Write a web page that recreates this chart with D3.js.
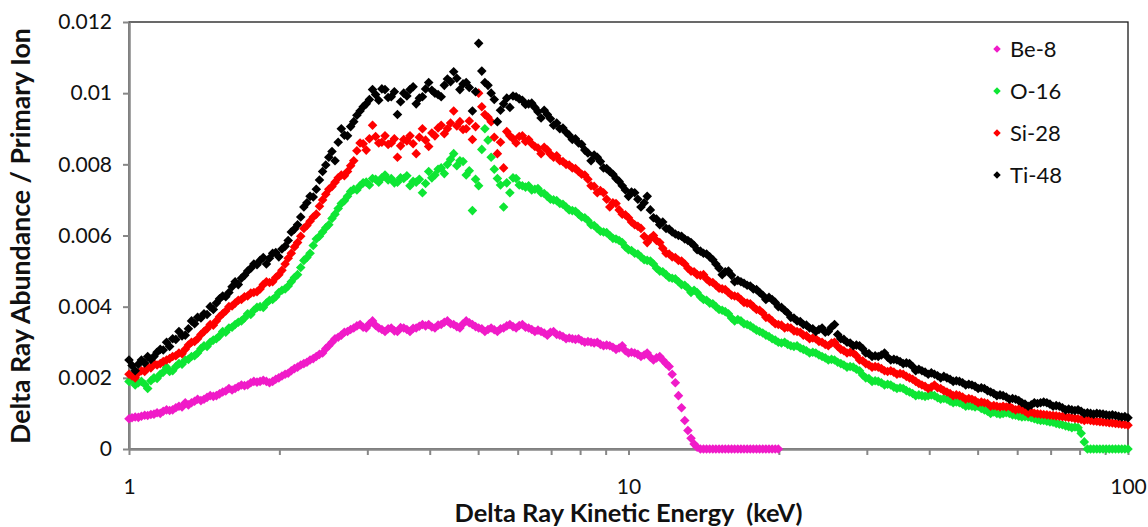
<!DOCTYPE html>
<html>
<head>
<meta charset="utf-8">
<script src="https://cdn.jsdelivr.net/npm/d3@7"></script>
<style>
  body { margin: 0; background: #fff; }
  svg { display: block; font-family: Lato, "Open Sans", sans-serif; }
</style>
</head>
<body>
<svg id="chart" width="1148" height="527"></svg>
<script>
// Delta-ray kinetic energy bins (keV), 160 bins per decade, shared by all ions
const energies = [
  1.000,1.014,1.029,1.044,1.059,1.075,1.090,1.106,1.122,1.138,
  1.155,1.171,1.189,1.206,1.223,1.241,1.259,1.277,1.296,1.315,
  1.334,1.353,1.372,1.393,1.413,1.433,1.454,1.475,1.496,1.518,
  1.540,1.562,1.585,1.608,1.631,1.655,1.679,1.703,1.728,1.753,
  1.778,1.804,1.830,1.857,1.884,1.911,1.939,1.967,1.995,2.024,
  2.054,2.083,2.113,2.144,2.175,2.207,2.239,2.271,2.304,2.338,
  2.371,2.406,2.441,2.477,2.512,2.549,2.585,2.623,2.661,2.699,
  2.738,2.778,2.818,2.859,2.901,2.943,2.985,3.029,3.073,3.117,
  3.162,3.208,3.255,3.302,3.350,3.398,3.447,3.497,3.548,3.600,
  3.652,3.705,3.758,3.813,3.868,3.924,3.981,4.039,4.097,4.157,
  4.217,4.278,4.340,4.403,4.467,4.532,4.597,4.664,4.732,4.800,
  4.870,4.941,5.012,5.085,5.158,5.233,5.309,5.386,5.464,5.543,
  5.623,5.705,5.788,5.872,5.957,6.043,6.131,6.220,6.310,6.401,
  6.494,6.588,6.683,6.780,6.879,6.978,7.079,7.182,7.286,7.391,
  7.499,7.607,7.718,7.830,7.943,8.058,8.175,8.294,8.414,8.536,
  8.660,8.785,8.913,9.042,9.173,9.306,9.441,9.578,9.716,9.857,
  10.00,10.14,10.29,10.44,10.59,10.75,10.90,11.06,11.22,11.38,
  11.55,11.71,11.89,12.06,12.23,12.41,12.59,12.77,12.96,13.15,
  13.34,13.53,13.72,13.93,14.13,14.33,14.54,14.75,14.96,15.18,
  15.40,15.62,15.85,16.08,16.31,16.55,16.79,17.03,17.28,17.53,
  17.78,18.04,18.30,18.57,18.84,19.11,19.39,19.67,19.95,20.24,
  20.54,20.83,21.13,21.44,21.75,22.07,22.39,22.71,23.04,23.38,
  23.71,24.06,24.41,24.77,25.12,25.49,25.85,26.23,26.61,26.99,
  27.38,27.78,28.18,28.59,29.01,29.43,29.85,30.29,30.73,31.17,
  31.62,32.08,32.55,33.02,33.50,33.98,34.47,34.97,35.48,36.00,
  36.52,37.05,37.58,38.13,38.68,39.24,39.81,40.39,40.97,41.57,
  42.17,42.78,43.40,44.03,44.67,45.32,45.97,46.64,47.32,48.00,
  48.70,49.41,50.12,50.85,51.58,52.33,53.09,53.86,54.64,55.43,
  56.23,57.05,57.88,58.72,59.57,60.43,61.31,62.20,63.10,64.01,
  64.94,65.88,66.83,67.80,68.79,69.78,70.79,71.82,72.86,73.91,
  74.99,76.07,77.18,78.30,79.43,80.58,81.75,82.94,84.14,85.36,
  86.60,87.85,89.13,90.42,91.73,93.06,94.41,95.78,97.16,98.57,
  100.0
];

// Delta-ray abundance per primary ion (Be-8 tallied up to ~20 keV)
const be8 = [
  0.00085,0.00088,0.00090,0.00089,0.00092,0.00095,0.00094,0.00097,0.00098,0.00102,
  0.0010,0.00106,0.0011,0.00108,0.0011,0.00116,0.0012,0.00118,0.0013,0.00124,
  0.0013,0.00134,0.0014,0.00136,0.0014,0.00145,0.0015,0.00148,0.0015,0.00155,
  0.0016,0.00163,0.0017,0.00166,0.0017,0.00175,0.0018,0.00178,0.0018,0.00186,
  0.0019,0.00188,0.0019,0.00193,0.0019,0.00186,0.0019,0.00196,0.0020,0.00205,
  0.0021,0.00213,0.0022,0.00226,0.0023,0.00236,0.0024,0.00244,0.0025,0.00254,
  0.0026,0.00266,0.0027,0.00282,0.0029,0.00300,0.0031,0.00314,0.0032,0.00328,
  0.0033,0.00336,0.0034,0.00346,0.0035,0.00342,0.0034,0.00352,0.0036,0.00347,
  0.0034,0.00336,0.0033,0.00338,0.0034,0.00332,0.0033,0.00341,0.0034,0.00336,
  0.0033,0.00339,0.0034,0.00345,0.0035,0.00346,0.0035,0.00343,0.0034,0.00348,
  0.0035,0.00356,0.0036,0.00352,0.0035,0.00344,0.0034,0.00352,0.0036,0.00355,
  0.0035,0.00344,0.0034,0.00338,0.0033,0.00336,0.0034,0.00335,0.0033,0.00338,
  0.0034,0.00346,0.0035,0.00344,0.0034,0.00347,0.0035,0.00342,0.0034,0.00336,
  0.0033,0.00334,0.0033,0.00326,0.0032,0.00328,0.0033,0.00322,0.0032,0.00316,
  0.0031,0.00312,0.0031,0.00308,0.0031,0.00304,0.0030,0.00302,0.0030,0.00298,
  0.0030,0.00294,0.0029,0.00292,0.0029,0.00286,0.0028,0.00284,0.0029,0.00276,
  0.0027,0.00272,0.0027,0.00266,0.0026,0.00264,0.0027,0.00258,0.0025,0.00256,
  0.0026,0.00250,0.0024,0.00232,0.0021,0.00186,0.0015,0.00116,0.0008,0.00052,
  0.0003,0.00014,0.00005,0,0,0,0,0,0,0,
  0,0,0,0,0,0,0,0,0,0,
  0,0,0,0,0,0,0,0,
  0
];

const o16 = [
  0.0019,0.00195,0.0018,0.00186,0.0019,0.00182,0.0017,0.00192,0.0020,0.00198,
  0.0021,0.00216,0.0023,0.00218,0.0022,0.00232,0.0024,0.00238,0.0025,0.00252,
  0.0026,0.00262,0.0027,0.00282,0.0029,0.00288,0.0030,0.00306,0.0031,0.00318,
  0.0033,0.00328,0.0034,0.00342,0.0035,0.00356,0.0036,0.00368,0.0038,0.00378,
  0.0039,0.00398,0.0040,0.00398,0.0041,0.00418,0.0042,0.00428,0.0044,0.00446,
  0.0045,0.00458,0.0047,0.00482,0.0049,0.00510,0.0053,0.00538,0.0055,0.00572,
  0.0059,0.00598,0.0061,0.00622,0.0063,0.00648,0.0066,0.00676,0.0069,0.00698,
  0.0071,0.00724,0.0073,0.00728,0.0074,0.00748,0.0075,0.00742,0.0076,0.00758,
  0.0075,0.00762,0.0077,0.00756,0.0076,0.00748,0.0075,0.00762,0.0076,0.00768,
  0.0074,0.00752,0.0075,0.00758,0.0072,0.00746,0.0078,0.00762,0.0077,0.00786,
  0.0079,0.00774,0.0080,0.00814,0.0083,0.00796,0.0081,0.00808,0.0077,0.00782,
  0.0067,0.00758,0.0074,0.00842,0.0090,0.00868,0.0082,0.00786,0.0076,0.00742,
  0.0068,0.00748,0.0072,0.00762,0.0076,0.00742,0.0074,0.00736,0.0074,0.00728,
  0.0073,0.00732,0.0072,0.00718,0.0071,0.00702,0.0070,0.00698,0.0069,0.00688,
  0.0068,0.00672,0.0067,0.00668,0.0066,0.00652,0.0065,0.00642,0.0063,0.00628,
  0.0062,0.00612,0.0061,0.00608,0.0060,0.00592,0.0059,0.00586,0.0058,0.00568,
  0.0056,0.00558,0.0055,0.00548,0.0054,0.00532,0.0053,0.00528,0.0052,0.00508,
  0.0050,0.00498,0.0049,0.00482,0.0048,0.00478,0.0047,0.00462,0.0046,0.00452,
  0.0044,0.00446,0.0044,0.00428,0.0042,0.00418,0.0041,0.00408,0.0040,0.00392,
  0.0039,0.00386,0.0038,0.00368,0.0036,0.00364,0.0036,0.00352,0.0035,0.00346,
  0.0034,0.00334,0.0033,0.00326,0.0032,0.00316,0.0031,0.00306,0.0030,0.00298,
  0.0030,0.00294,0.0029,0.00288,0.0029,0.00284,0.0028,0.00276,0.0027,0.00272,
  0.0027,0.00264,0.0026,0.00256,0.0025,0.00252,0.0025,0.00244,0.0024,0.00236,
  0.0023,0.00232,0.0023,0.00224,0.0022,0.00208,0.0020,0.00198,0.0019,0.00192,
  0.0019,0.00186,0.0018,0.00182,0.0018,0.00174,0.0017,0.00172,0.0017,0.00164,
  0.0016,0.00156,0.0015,0.00152,0.0015,0.00148,0.0015,0.00152,0.0015,0.00144,
  0.0014,0.00142,0.0014,0.00134,0.0013,0.00132,0.0013,0.00126,0.0012,0.00122,
  0.0012,0.00118,0.0012,0.00114,0.0011,0.00106,0.0010,0.00104,0.0010,0.00098,
  0.0010,0.00102,0.0010,0.00096,0.00095,0.00092,0.0009,0.00091,0.0009,0.00088,
  0.00085,0.00082,0.0008,0.00080,0.00078,0.00076,0.00075,0.00072,0.0007,0.00068,
  0.00065,0.00063,0.0006,0.00062,0.0006,0.00044,0.0002,0,0,0,
  0,0,0,0,0,0,0,0,0,0,
  0
];

const si28 = [
  0.0021,0.00205,0.0020,0.00214,0.0022,0.00218,0.0023,0.00228,0.0024,0.00236,
  0.0024,0.00246,0.0025,0.00254,0.0026,0.00262,0.0027,0.00268,0.0028,0.00292,
  0.0030,0.00302,0.0031,0.00322,0.0033,0.00338,0.0035,0.00348,0.0036,0.00372,
  0.0038,0.00388,0.0040,0.00402,0.0041,0.00418,0.0042,0.00428,0.0043,0.00438,
  0.0044,0.00442,0.0045,0.00462,0.0047,0.00468,0.0047,0.00482,0.0049,0.00502,
  0.0052,0.00536,0.0055,0.00568,0.0058,0.00598,0.0062,0.00628,0.0064,0.00652,
  0.0066,0.00682,0.0070,0.00716,0.0073,0.00738,0.0075,0.00762,0.0077,0.00768,
  0.0078,0.00796,0.0081,0.00838,0.0086,0.00858,0.0084,0.00872,0.0091,0.00878,
  0.0086,0.00862,0.0088,0.00856,0.0086,0.00872,0.0082,0.00852,0.0087,0.00866,
  0.0088,0.00858,0.0083,0.00876,0.0090,0.00868,0.0085,0.00888,0.0088,0.00902,
  0.0091,0.00886,0.0090,0.00916,0.0095,0.00908,0.0092,0.00898,0.0090,0.00922,
  0.0087,0.00906,0.0100,0.00962,0.0094,0.00932,0.0092,0.00876,0.0083,0.00862,
  0.0079,0.00892,0.0088,0.00872,0.0086,0.00878,0.0088,0.00864,0.0087,0.00858,
  0.0085,0.00846,0.0083,0.00848,0.0084,0.00828,0.0082,0.00824,0.0081,0.00808,
  0.0080,0.00798,0.0079,0.00788,0.0078,0.00772,0.0077,0.00758,0.0074,0.00738,
  0.0072,0.00726,0.0072,0.00702,0.0068,0.00692,0.0069,0.00672,0.0066,0.00658,
  0.0065,0.00638,0.0063,0.00626,0.0062,0.00598,0.0058,0.00592,0.0060,0.00586,
  0.0058,0.00564,0.0055,0.00548,0.0054,0.00538,0.0053,0.00528,0.0052,0.00508,
  0.0050,0.00498,0.0049,0.00488,0.0049,0.00478,0.0047,0.00468,0.0046,0.00452,
  0.0045,0.00448,0.0044,0.00432,0.0043,0.00428,0.0042,0.00412,0.0041,0.00408,
  0.0040,0.00392,0.0039,0.00382,0.0037,0.00368,0.0036,0.00352,0.0035,0.00348,
  0.0034,0.00342,0.0034,0.00332,0.0033,0.00328,0.0032,0.00318,0.0031,0.00312,
  0.0031,0.00302,0.0030,0.00294,0.0029,0.00298,0.0030,0.00288,0.0028,0.00276,
  0.0027,0.00272,0.0027,0.00262,0.0025,0.00248,0.0024,0.00236,0.0023,0.00232,
  0.0023,0.00226,0.0022,0.00218,0.0022,0.00216,0.0021,0.00212,0.0021,0.00204,
  0.0020,0.00196,0.0019,0.00184,0.0018,0.00176,0.0017,0.00174,0.0018,0.00172,
  0.0017,0.00164,0.0016,0.00156,0.0015,0.00152,0.0015,0.00146,0.0014,0.00142,
  0.0014,0.00136,0.0013,0.00132,0.0013,0.00128,0.0012,0.00122,0.0012,0.00118,
  0.0012,0.00118,0.0012,0.00114,0.0011,0.00112,0.0011,0.00106,0.0010,0.00104,
  0.0010,0.00099,0.00098,0.00097,0.00096,0.00095,0.00094,0.00093,0.00092,0.00091,
  0.00090,0.00089,0.00088,0.00086,0.00085,0.00083,0.00080,0.00082,0.00080,0.00079,
  0.00078,0.00077,0.00076,0.00075,0.00074,0.00073,0.00072,0.00071,0.00070,0.00069,
  0.00067
];

const ti48 = [
  0.0025,0.00235,0.0022,0.00238,0.0025,0.00242,0.0026,0.00252,0.0026,0.00272,
  0.0028,0.00278,0.0030,0.00288,0.0031,0.00308,0.0033,0.00318,0.0032,0.00338,
  0.0036,0.00352,0.0037,0.00368,0.0038,0.00378,0.0040,0.00392,0.0041,0.00422,
  0.0043,0.00428,0.0044,0.00456,0.0047,0.00462,0.0048,0.00488,0.0050,0.00508,
  0.0052,0.00518,0.0053,0.00538,0.0052,0.00536,0.0055,0.00552,0.0054,0.00562,
  0.0057,0.00586,0.0061,0.00618,0.0063,0.00652,0.0068,0.00692,0.0071,0.00708,
  0.0073,0.00756,0.0078,0.00798,0.0082,0.00836,0.0081,0.00862,0.0090,0.00882,
  0.0088,0.00906,0.0092,0.00938,0.0095,0.00962,0.0097,0.00982,0.0101,0.00996,
  0.0098,0.01012,0.0101,0.00988,0.0099,0.01004,0.0094,0.00976,0.0100,0.00992,
  0.0101,0.01018,0.0097,0.00986,0.0099,0.01012,0.0103,0.01008,0.0100,0.00996,
  0.0099,0.01022,0.0104,0.01032,0.0106,0.01042,0.0101,0.01026,0.0103,0.01016,
  0.0095,0.01004,0.0114,0.01062,0.0103,0.01022,0.0100,0.00982,0.0092,0.00952,
  0.0097,0.00986,0.0096,0.00992,0.0099,0.00984,0.0098,0.00968,0.0097,0.00972,
  0.0096,0.00948,0.0093,0.00952,0.0094,0.00928,0.0091,0.00916,0.0090,0.00902,
  0.0089,0.00882,0.0087,0.00872,0.0086,0.00856,0.0084,0.00832,0.0081,0.00826,
  0.0082,0.00808,0.0079,0.00788,0.0078,0.00772,0.0076,0.00752,0.0074,0.00728,
  0.0071,0.00722,0.0072,0.00702,0.0068,0.00692,0.0071,0.00672,0.0065,0.00646,
  0.0063,0.00638,0.0062,0.00618,0.0061,0.00604,0.0060,0.00598,0.0059,0.00586,
  0.0058,0.00572,0.0056,0.00556,0.0055,0.00548,0.0054,0.00532,0.0052,0.00508,
  0.0049,0.00498,0.0050,0.00488,0.0047,0.00474,0.0047,0.00466,0.0046,0.00458,
  0.0045,0.00448,0.0044,0.00432,0.0042,0.00426,0.0042,0.00412,0.0040,0.00398,
  0.0039,0.00382,0.0037,0.00368,0.0036,0.00358,0.0035,0.00348,0.0034,0.00338,
  0.0033,0.00336,0.0034,0.00328,0.0033,0.00342,0.0035,0.00322,0.0031,0.00308,
  0.0030,0.00298,0.0029,0.00292,0.0029,0.00282,0.0027,0.00268,0.0026,0.00262,
  0.0026,0.00264,0.0027,0.00258,0.0025,0.00252,0.0025,0.00246,0.0024,0.00242,
  0.0024,0.00232,0.0022,0.00224,0.0022,0.00216,0.0021,0.00214,0.0021,0.00206,
  0.0020,0.00204,0.0020,0.00196,0.0019,0.00192,0.0019,0.00186,0.0018,0.00182,
  0.0018,0.00176,0.0017,0.00172,0.0017,0.00164,0.0016,0.00156,0.0015,0.00152,
  0.0015,0.00146,0.0014,0.00142,0.0014,0.00136,0.0013,0.00126,0.0012,0.00124,
  0.0013,0.00128,0.0013,0.00132,0.0013,0.00126,0.0012,0.00122,0.0012,0.00116,
  0.0011,0.00112,0.0011,0.00108,0.0011,0.00106,0.0010,0.00102,0.0010,0.00098,
  0.0010,0.00099,0.00098,0.00096,0.00095,0.00096,0.00094,0.00092,0.00090,0.00091,
  0.00088
];

const seriesNames  = ["Be-8", "O-16", "Si-28", "Ti-48"];
const seriesValues = [be8, o16, si28, ti48];
const seriesColors = ["#f01bc8", "#0ee634", "#ff0000", "#000000"];

const yTickValues = [0, 0.002, 0.004, 0.006, 0.008, 0.01, 0.012];
const xTickLabels = [1, 10, 100];

const xTitle = "Delta Ray Kinetic Energy  (keV)";
const yTitle = "Delta Ray Abundance / Primary Ion";

// ---- layout ----
const plot = { left: 129, right: 1128, top: 22, bottom: 449 };
const axisGray = "#878787";

const svg = d3.select("#chart");

const x = d3.scaleLog().domain([1, 100]).range([plot.left, plot.right]);
const y = d3.scaleLinear().domain([0, 0.012]).range([plot.bottom, plot.top]);

// square diamond marker (rotated square), size = area
const diamond = {
  draw(ctx, size) {
    const r = Math.sqrt(size / 2);
    ctx.moveTo(0, -r);
    ctx.lineTo(r, 0);
    ctx.lineTo(0, r);
    ctx.lineTo(-r, 0);
    ctx.closePath();
  }
};

// scale a text's font size so that it spans the given width
function fitWidth(sel, width) {
  const w = sel.node().getComputedTextLength();
  const fs = parseFloat(sel.attr("font-size"));
  if (w > 0) sel.attr("font-size", (fs * width / w).toFixed(2));
}

// plot-area frame
svg.append("rect")
  .attr("x", plot.left).attr("y", plot.top)
  .attr("width", plot.right - plot.left).attr("height", plot.bottom - plot.top)
  .attr("fill", "none").attr("stroke", "#1a1a1a").attr("stroke-width", 1.3);

// y axis
const fmtY = d => d === 0 ? "0" : String(+d.toFixed(3));
const yAxis = svg.append("g")
  .attr("transform", `translate(${plot.left},0)`)
  .call(d3.axisLeft(y).tickValues(yTickValues).tickSize(6).tickSizeOuter(0)
          .tickPadding(11).tickFormat(fmtY));
yAxis.select(".domain").attr("stroke", axisGray).attr("stroke-width", 2.5);
yAxis.selectAll(".tick line").attr("stroke", axisGray).attr("stroke-width", 2);
yAxis.selectAll(".tick text").attr("font-size", 21).attr("fill", "#111")
  .attr("font-family", "Lato, sans-serif");

// x axis (log, minor ticks unlabeled)
const xAxis = svg.append("g")
  .attr("transform", `translate(0,${plot.bottom})`)
  .call(d3.axisBottom(x).tickValues(x.ticks()).tickSize(6).tickSizeOuter(0)
          .tickPadding(24).tickFormat(d => xTickLabels.includes(d) ? String(d) : ""));
xAxis.select(".domain").attr("stroke", axisGray).attr("stroke-width", 2.5);
xAxis.selectAll(".tick line").attr("stroke", axisGray).attr("stroke-width", 2);
xAxis.selectAll(".tick text").attr("font-size", 21).attr("fill", "#111")
  .attr("font-family", "Lato, sans-serif");

// axis titles
const xt = svg.append("text")
  .attr("x", (plot.left + plot.right) / 2).attr("y", 522)
  .attr("text-anchor", "middle").style("white-space", "pre")
  .attr("font-size", 22).attr("font-weight", "bold").attr("fill", "#111")
  .text(xTitle);
fitWidth(xt, 348);

const yt = svg.append("text")
  .attr("transform", `translate(30,236) rotate(-90)`)
  .attr("text-anchor", "middle")
  .attr("font-size", 22).attr("font-weight", "bold").attr("fill", "#111")
  .text(yTitle);
fitWidth(yt, 416);

// scatter series, drawn in legend order so Ti-48 sits on top
const symbolGen = d3.symbol().type(diamond).size(46);
seriesValues.forEach((vals, i) => {
  svg.append("g")
    .attr("fill", seriesColors[i])
    .selectAll("path")
    .data(vals.map((v, j) => [energies[j], v]))
    .join("path")
    .attr("transform", d => `translate(${x(d[0])},${y(d[1])})`)
    .attr("d", symbolGen);
});

// legend
const legend = svg.append("g").attr("transform", "translate(997,49)");
const legendRows = legend.selectAll("g")
  .data(seriesNames)
  .join("g")
  .attr("transform", (d, i) => `translate(0,${i * 42})`);
legendRows.append("path")
  .attr("d", d3.symbol().type(diamond).size(28))
  .attr("fill", (d, i) => seriesColors[i]);
legendRows.append("text")
  .attr("x", 13).attr("dy", "0.35em")
  .attr("font-size", 22).attr("fill", "#111")
  .text(d => d);
</script>
</body>
</html>
